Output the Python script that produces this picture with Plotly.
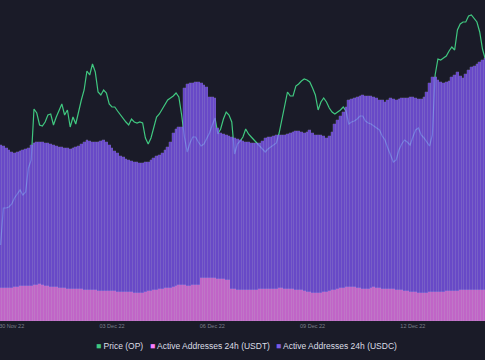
import plotly.graph_objects as go
import pandas as pd

# ---- data (2-hour samples, 29 Nov 2022 16:00 -> 14 Dec 2022 04:00) ----
start_time = "2022-11-29 16:00"
n_points = 175

price_op = [0.776,0.813,0.813,0.814,0.817,0.823,0.827,0.831,0.826,0.829,
0.853,0.861,0.912,0.908,0.896,0.895,0.899,0.906,0.907,0.896,
0.904,0.910,0.917,0.906,0.911,0.894,0.904,0.897,0.910,0.921,
0.931,0.950,0.946,0.957,0.949,0.929,0.926,0.931,0.928,0.917,
0.914,0.914,0.910,0.906,0.903,0.899,0.896,0.902,0.899,0.898,
0.899,0.898,0.883,0.877,0.883,0.893,0.904,0.907,0.912,0.917,
0.921,0.923,0.925,0.928,0.924,0.906,0.884,0.869,0.878,0.884,
0.884,0.879,0.875,0.877,0.882,0.888,0.896,0.903,0.887,0.892,
0.902,0.909,0.906,0.899,0.867,0.877,0.880,0.884,0.892,0.887,
0.884,0.881,0.878,0.875,0.871,0.869,0.872,0.874,0.876,0.878,
0.888,0.902,0.914,0.929,0.925,0.925,0.935,0.937,0.940,0.942,
0.941,0.939,0.933,0.926,0.911,0.919,0.923,0.919,0.913,0.909,
0.907,0.909,0.911,0.914,0.910,0.897,0.899,0.900,0.902,0.905,
0.905,0.900,0.898,0.897,0.895,0.893,0.891,0.885,0.881,0.873,
0.866,0.859,0.861,0.871,0.877,0.881,0.879,0.876,0.884,0.891,
0.893,0.886,0.883,0.879,0.875,0.886,0.946,0.962,0.961,0.963,
0.965,0.970,0.974,0.971,0.991,0.997,0.999,0.999,1.005,1.006,
1.002,0.999,0.989,0.972,0.962]

active_usdt = [666,664,662,660,666,678,690,700,702,704,
706,710,720,726,734,722,710,696,684,680,
674,668,662,654,646,640,638,636,634,632,
628,624,620,616,612,608,606,604,602,600,
598,594,590,586,582,578,576,572,568,564,
560,570,582,592,604,616,626,638,646,652,
660,668,684,700,714,718,714,710,706,712,
718,720,856,860,862,866,860,852,846,838,
832,824,820,640,634,630,624,622,622,620,
622,626,630,634,636,638,640,642,646,650,
652,652,648,644,640,634,628,622,614,600,
588,574,568,560,558,566,576,584,598,612,
628,644,656,668,682,682,676,672,666,658,
650,644,646,668,678,666,656,650,646,644,
638,634,628,622,614,604,596,586,578,572,
564,562,566,570,574,578,580,584,588,590,
594,598,602,606,610,614,616,618,620,620,
622,622,624,624,626]

active_usdc = [2854,2836,2798,2760,2714,2682,2690,2700,2718,2736,
2754,2810,2840,2854,2846,2858,2850,2864,2856,2840,
2826,2812,2818,2806,2814,2800,2822,2844,2866,2908,
2952,2996,2980,2964,2968,2972,2994,3016,2978,2920,
2862,2806,2770,2714,2698,2662,2644,2628,2612,2616,
2600,2590,2598,2588,2616,2644,2674,2682,2714,2768,
2820,2912,3076,3140,3166,3162,3946,4030,4054,4048,
4062,4060,3904,3860,3818,3614,3620,3608,3014,2922,
2908,2896,2880,3040,3026,3010,2996,2978,2958,2960,
2938,2934,2930,2926,2964,3022,3040,3038,3054,3070,
3068,3068,3072,3096,3120,3146,3172,3178,3166,3160,
3192,3246,3192,3160,3162,3154,3124,3076,3102,3168,
3312,3376,3444,3512,3598,3738,3764,3788,3814,3842,
3870,3856,3854,3832,3802,3794,3764,3770,3734,3776,
3822,3806,3792,3818,3846,3856,3864,3894,3902,3888,
3876,3878,3914,4010,4186,4302,4300,4236,4192,4170,
4186,4202,4278,4314,4370,4286,4244,4322,4400,4460,
4478,4518,4556,4596,4634]

tick_dates = ["2022-11-30", "2022-12-03", "2022-12-06", "2022-12-09", "2022-12-12"]
tick_labels = ["30 Nov 22", "03 Dec 22", "06 Dec 22", "09 Dec 22", "12 Dec 22"]
series_names = ["Price (OP)", "Active Addresses 24h (USDT)", "Active Addresses 24h (USDC)"]

# ---- styling ----
BG = "#1a1b28"
GREEN = "#40c880"
PINK = "#fa80ff"
PURPLE = "#845aff"

times = pd.date_range(start_time, periods=n_points, freq="2h")

fig = go.Figure()
fig.add_trace(go.Scatter(x=times, y=price_op, name=series_names[0], mode="lines",
                         line=dict(color=GREEN, width=1.2), yaxis="y", showlegend=False))
fig.add_trace(go.Bar(x=times, y=active_usdt, name=series_names[1], yaxis="y2",
                     marker=dict(color=PINK, line=dict(width=0.5, color="rgba(255,200,255,0.35)")),
                     opacity=0.74, showlegend=False))
fig.add_trace(go.Bar(x=times, y=active_usdc, name=series_names[2], yaxis="y2",
                     marker=dict(color=PURPLE, line=dict(width=0.5, color="rgba(200,180,255,0.35)")),
                     opacity=0.74, showlegend=False))

legend_font = dict(family="Liberation Sans, Arial, sans-serif", size=8.5, color="#dcdee6")
legend_items = [(series_names[0], GREEN, 94), (series_names[1], PINK, 148), (series_names[2], "#7a5ce6", 274)]
for name, col, px in legend_items:
    fig.add_annotation(x=px / 485, y=-0.077, xref="paper", yref="paper", xanchor="left", yanchor="middle",
                       showarrow=False, font=legend_font,
                       text=f"<span style='color:{col}'>■</span> {name}")

fig.update_layout(
    width=485, height=360,
    margin=dict(l=0, r=0, t=0, b=39),
    paper_bgcolor=BG, plot_bgcolor=BG,
    barmode="stack", bargap=0,
    showlegend=False,
    xaxis=dict(type="date", range=["2022-11-29 15:36", "2022-12-14 03:48"],
               tickvals=tick_dates, ticktext=tick_labels, showgrid=False, zeroline=False,
               showline=False, ticks="", ticklabeloverflow="allow",
               tickfont=dict(family="Liberation Sans, Arial, sans-serif", size=5.5, color="#7d808c")),
    yaxis=dict(range=[0.700, 1.021], visible=False, showgrid=False, zeroline=False),
    yaxis2=dict(range=[0, 6420], overlaying="y", side="right", visible=False,
                showgrid=False, zeroline=False),
)

fig.write_html("out.html", config={"displayModeBar": False},
               post_script="document.body.style.margin='0px';")
